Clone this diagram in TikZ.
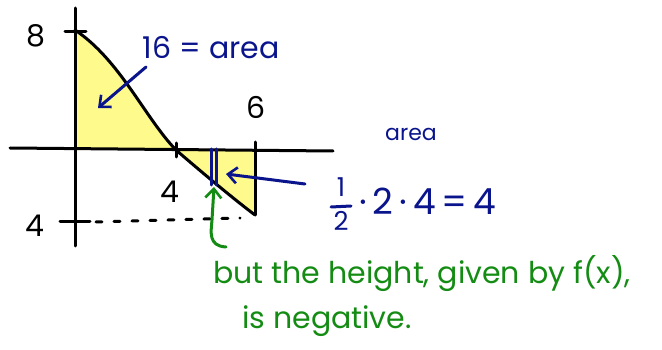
\documentclass[tikz,border=0pt]{standalone}
\usepackage{fontspec}
\setmainfont{Poppins}
\usetikzlibrary{arrows.meta}
\definecolor{penblue}{RGB}{10,20,140}
\definecolor{pengreen}{RGB}{20,140,20}
\definecolor{hilite}{RGB}{255,250,140}
\tikzset{
  pen/.style={line width=3pt, line cap=round, line join=round},
  bluepen/.style={pen, penblue},
  greenpen/.style={pen, pengreen},
  lbl/.style={inner sep=0pt, font=\fontsize{30}{34}\selectfont},
  barb/.style={-{Straight Barb[length=9pt,width=16pt,line width=2.6pt]}}
}
\begin{document}
\begin{tikzpicture}[x=1pt,y=-1pt]
\useasboundingbox (0,0) rectangle (662,350);
\coordinate (c0) at (75,30);
\coordinate (c4) at (176,150);
\coordinate (c6) at (255,215);
\coordinate (o) at (75,150);
\coordinate (a6) at (255,150);
% fill
\fill[hilite] (o) -- (c0) .. controls (120,60) and (145,118) .. (c4) -- cycle;
\fill[hilite] (c4) .. controls (205,175) and (235,200) .. (c6) -- (a6) -- cycle;
% axes
\coordinate (yt) at (75,8);
\coordinate (yb) at (75,246);
\coordinate (xl) at (10,148);
\coordinate (xr) at (333,151);
\draw[pen] (yt) -- (yb);
\draw[pen] (xl) -- (xr);
% ticks
\coordinate (t8a) at (65,32); \coordinate (t8b) at (86,32);
\draw[pen] (t8a) -- (t8b);
\coordinate (tma) at (60,222); \coordinate (tmb) at (90,222);
\draw[pen] (tma) -- (tmb);
\coordinate (t4a) at (176,143); \coordinate (t4b) at (176,157);
\draw[pen] (t4a) -- (t4b);
\coordinate (t6a) at (255,142);
\draw[pen] (t6a) -- (c6);
% dashed
\coordinate (da) at (96,222); \coordinate (db) at (240,218);
\draw[pen, dash pattern=on 6pt off 12pt] (da) -- (db);
% curve
\draw[pen] (c0) .. controls (120,60) and (145,118) .. (c4) .. controls (205,175) and (235,200) .. (c6);
% labels
\node[lbl] (l8) at (36,36) {8};
\node[lbl] (lm4) at (35,226) {4};
\node[lbl] (l4) at (170,192) {4};
\node[lbl] (l6) at (256,107) {6};
% blue
\node[lbl, penblue] (area16) at (211,48) {16 = area};
\coordinate (ba) at (146,67);
\draw[bluepen, barb] (ba) -- (98,108);
\coordinate (s1a) at (211,149); \coordinate (s1b) at (211,185);
\coordinate (s2a) at (216,149); \coordinate (s2b) at (216,185);
\draw[bluepen] (s1a) -- (s1b) (s2a) -- (s2b);
\coordinate (bs) at (305,184);
\coordinate (be) at (226,174);
\draw[bluepen, barb] (bs) -- (be);
\node[penblue, inner sep=0pt, font=\fontsize{22}{26}\selectfont] (area2) at (411,134) {area};
\node[penblue, inner sep=0pt, font=\fontsize{26}{28}\selectfont] (num) at (341,187) {1};
\node[penblue, inner sep=0pt, font=\fontsize{26}{28}\selectfont] (den) at (341,221) {2};
\coordinate (fa) at (331,207); \coordinate (fb) at (351,206);
\draw[bluepen] (fa) -- (fb);
\node[penblue, inner sep=0pt, font=\fontsize{36}{40}\selectfont] (calc) at (428,201) {·\,2\,·\,4\,=\,4};
% green
\node[pengreen, inner sep=0pt, font=\fontsize{30}{34}\selectfont] (g1) at (422,274) {but the height, given by f(x),};
\node[pengreen, inner sep=0pt, font=\fontsize{30}{34}\selectfont] (g2) at (327,321) {is negative.};
\coordinate (gs) at (226,247);
\coordinate (ge) at (214,187);
\draw[greenpen, barb] (gs) .. controls (208,246) and (211,232) .. (212,220) -- (ge);
\end{tikzpicture}
\end{document}
